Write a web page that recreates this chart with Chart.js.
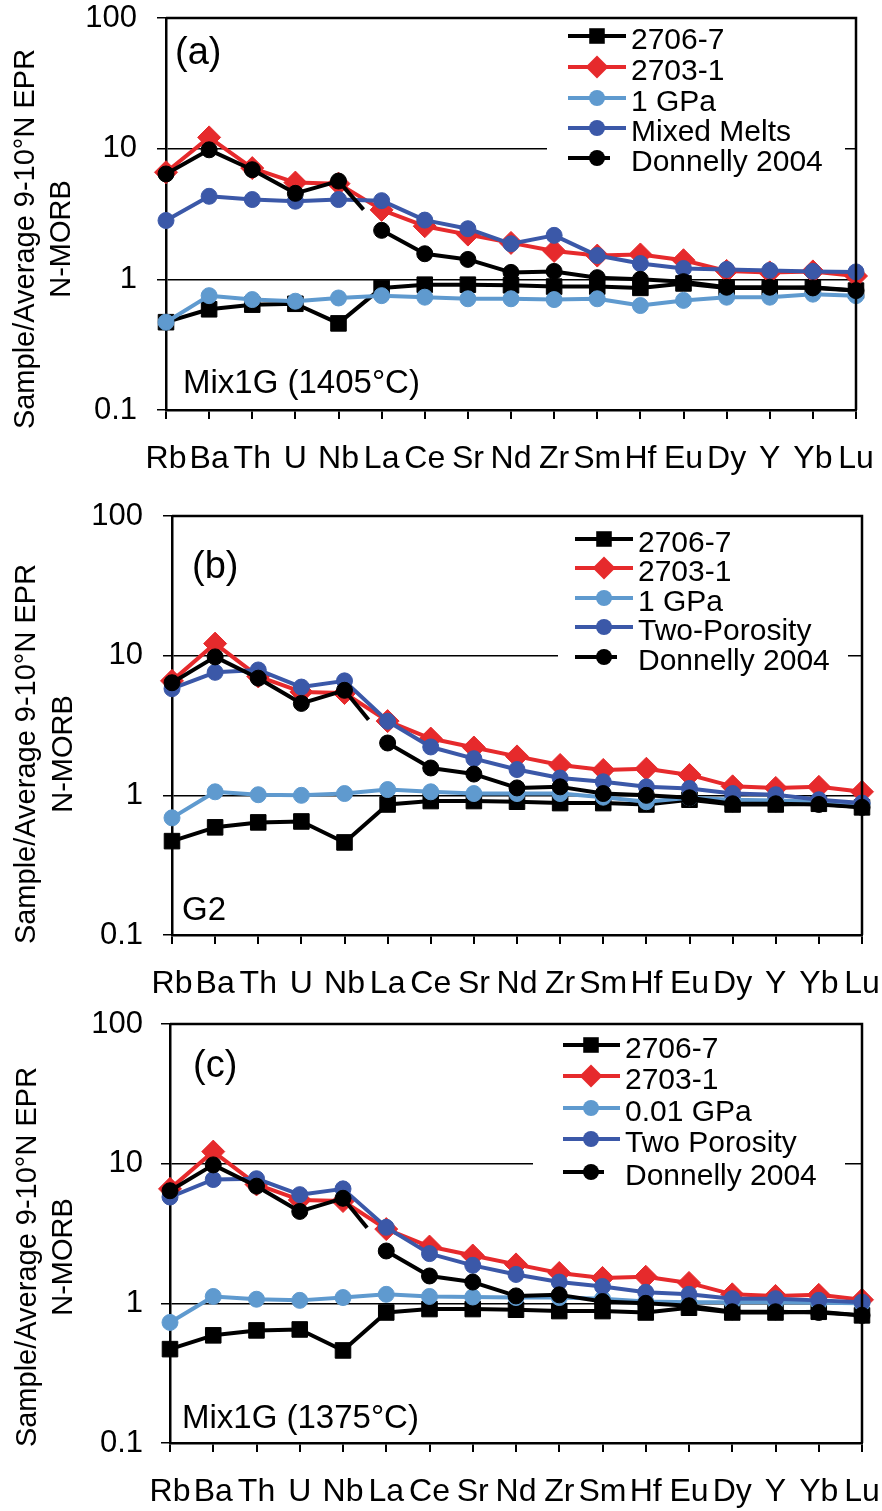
<!DOCTYPE html>
<html>
<head>
<meta charset="utf-8">
<script src="https://cdn.jsdelivr.net/npm/chart.js@4.4.1/dist/chart.umd.min.js"></script>
<style>
  body { margin: 0; background: #fff; width: 882px; height: 1511px; position: relative; overflow: hidden; }
  canvas { position: absolute; left: 0; }
</style>
</head>
<body>
<canvas id="chartA" width="882" height="488" style="top:0px"></canvas>
<canvas id="chartB" width="882" height="510" style="top:490px"></canvas>
<canvas id="chartC" width="882" height="511" style="top:1000px"></canvas>
<script>
// elements along the x axis
const elements = ['Rb', 'Ba', 'Th', 'U', 'Nb', 'La', 'Ce', 'Sr', 'Nd', 'Zr', 'Sm', 'Hf', 'Eu', 'Dy', 'Y', 'Yb', 'Lu'];
const yTicks = [0.1, 1, 10, 100];

// samples (same in every panel)
const sample2706 = [0.47, 0.59, 0.64, 0.65, 0.46, 0.86, 0.91, 0.91, 0.9, 0.88, 0.88, 0.86, 0.93, 0.86, 0.86, 0.87, 0.82];
const sample2703 = [6.6, 12.2, 7.1, 5.5, 5.4, 3.4, 2.55, 2.2, 1.9, 1.65, 1.52, 1.55, 1.4, 1.16, 1.13, 1.15, 1.06];
const donnelly2004 = [6.4, 9.8, 6.9, 4.55, 5.65, 2.37, 1.57, 1.42, 1.13, 1.15, 1.03, 1.0, 0.96, 0.87, 0.87, 0.86, 0.82];

// (a) Mix1G 1405 C
const gpa1A = [0.47, 0.75, 0.7, 0.68, 0.72, 0.75, 0.73, 0.71, 0.71, 0.7, 0.71, 0.63, 0.69, 0.73, 0.73, 0.77, 0.75];
const mixedMelts = [2.82, 4.32, 4.08, 3.96, 4.08, 4.0, 2.84, 2.44, 1.87, 2.17, 1.52, 1.32, 1.21, 1.19, 1.17, 1.15, 1.14];
// (b) G2
const gpa1B = [0.69, 1.06, 1.01, 1.0, 1.03, 1.1, 1.06, 1.03, 1.03, 1.03, 0.97, 0.9, 0.96, 0.93, 0.92, 0.9, 0.87];
const twoPorosityB = [5.8, 7.6, 7.9, 5.96, 6.6, 3.39, 2.22, 1.83, 1.53, 1.33, 1.25, 1.15, 1.12, 1.03, 1.01, 0.93, 0.88];
// (c) Mix1G 1375 C
const gpa001C = [0.73, 1.12, 1.07, 1.05, 1.1, 1.16, 1.12, 1.11, 1.1, 1.1, 1.08, 1.03, 1.02, 1.02, 1.02, 1.01, 1.0];
const twoPorosityC = [5.77, 7.7, 7.8, 6.0, 6.6, 3.5, 2.27, 1.87, 1.61, 1.42, 1.32, 1.2, 1.16, 1.08, 1.08, 1.05, 1.02];

const FONT = '"Liberation Sans", Arial, Helvetica, sans-serif';
const RED = '#E62A2C';
const LIGHT = '#5F9ACF';
const DARK = '#3B58A8';

function makeDatasets(modelLabel, modelData, mixLabel, mixData) {
    return [
        { label: '2706-7', data: sample2706, borderColor: '#000', backgroundColor: '#000',
          pointStyle: 'rect', pointRadius: 11, order: 4 },
        { label: '2703-1', data: sample2703, borderColor: RED, backgroundColor: RED,
          pointStyle: 'rectRot', pointRadius: 11.5, order: 3 },
        { label: modelLabel, data: modelData, borderColor: LIGHT, backgroundColor: LIGHT,
          pointStyle: 'circle', pointRadius: 8, order: 2 },
        { label: mixLabel, data: mixData, borderColor: DARK, backgroundColor: DARK,
          pointStyle: 'circle', pointRadius: 8, order: 1 },
        { label: 'Donnelly 2004', data: donnelly2004, borderColor: '#000', backgroundColor: '#000',
          pointStyle: 'circle', pointRadius: 8, order: 0,
          // the Nb-La segment is only partly drawn in the original
          segment: { borderDash: ctx => ctx.p0DataIndex === 4 ? [38, 400] : undefined } }
    ];
}

function drawMarker(ctx, style, r, x, y, color) {
    ctx.fillStyle = color;
    ctx.beginPath();
    if (style === 'rect') {
        const h = r * Math.SQRT1_2;
        ctx.rect(x - h, y - h, 2 * h, 2 * h);
    } else if (style === 'rectRot') {
        ctx.moveTo(x, y - r); ctx.lineTo(x + r, y); ctx.lineTo(x, y + r); ctx.lineTo(x - r, y);
        ctx.closePath();
    } else {
        ctx.arc(x, y, r, 0, Math.PI * 2);
    }
    ctx.fill();
}

// legend, panel texts, y title and plot frame
function makeDecor(p) {
    return {
        id: 'decor',
        afterDatasetsDraw(chart) {
            const ctx = chart.ctx;
            const area = chart.chartArea;
            ctx.save();
            // white legend background hides the gridline
            ctx.fillStyle = '#fff';
            const boxTop = area.top + 2;
            ctx.fillRect(p.boxX0, boxTop, p.boxX1 - p.boxX0, p.rows[4] + 20 - boxTop);

            chart.data.datasets.forEach((ds, i) => {
                const y = p.rows[i];
                const x1 = ds.label === 'Donnelly 2004' ? p.markerX + 13 : p.lineX1;
                ctx.strokeStyle = ds.borderColor;
                ctx.lineWidth = 4;
                ctx.beginPath();
                ctx.moveTo(p.lineX0, y);
                ctx.lineTo(x1, y);
                ctx.stroke();
                drawMarker(ctx, ds.pointStyle, ds.pointRadius, p.markerX, y, ds.borderColor);
                ctx.fillStyle = '#000';
                ctx.font = '30px ' + FONT;
                ctx.textAlign = 'left';
                ctx.textBaseline = 'middle';
                ctx.fillText(ds.label, p.textX, y + 5);
            });

            // panel letter and run name
            ctx.fillStyle = '#000';
            ctx.textBaseline = 'alphabetic';
            ctx.textAlign = 'left';
            ctx.font = '38px ' + FONT;
            ctx.fillText(p.letter, p.letterX, p.letterY);
            ctx.font = '33px ' + FONT;
            ctx.fillText(p.name, p.nameX, p.nameY);

            // y title, two lines
            ctx.font = '29px ' + FONT;
            ctx.textAlign = 'center';
            ctx.textBaseline = 'middle';
            [['Sample/Average 9-10°N EPR', p.titleX1], ['N-MORB', p.titleX2]].forEach(([t, x]) => {
                ctx.save();
                ctx.translate(x, p.titleY);
                ctx.rotate(-Math.PI / 2);
                ctx.fillText(t, 0, 0);
                ctx.restore();
            });

            // top and right frame
            ctx.strokeStyle = '#000';
            ctx.lineWidth = 2.5;
            ctx.beginPath();
            ctx.moveTo(area.left, area.top);
            ctx.lineTo(area.right, area.top);
            ctx.lineTo(area.right, area.bottom);
            ctx.stroke();
            ctx.restore();
        }
    };
}

function makePanel(id, p, datasets) {
    const ctx = document.getElementById(id).getContext('2d');
    return new Chart(ctx, {
        type: 'line',
        data: { labels: elements, datasets: datasets },
        options: {
            responsive: false,
            animation: false,
            devicePixelRatio: 1,
            layout: { padding: { left: 0, top: p.plotTop, right: 882 - p.plotRight, bottom: 0 } },
            elements: {
                line: { borderWidth: 4, tension: 0, borderJoinStyle: 'round' },
                point: { borderWidth: 1 }
            },
            datasets: { line: { clip: false } },
            plugins: { legend: { display: false }, tooltip: { enabled: false } },
            scales: {
                x: {
                    type: 'category',
                    offset: false,
                    grid: { drawOnChartArea: false, drawTicks: true, tickLength: 9, color: '#000', lineWidth: 2 },
                    border: { color: '#000', width: 2.5 },
                    ticks: {
                        autoSkip: false, maxRotation: 0, minRotation: 0, padding: 21, color: '#000',
                        font: { family: FONT, size: 32 }
                    },
                    afterFit: s => {
                        s.height = p.canvasH - p.plotBottom;
                        s.paddingLeft = 0; s.paddingRight = 0;
                    }
                },
                y: {
                    type: 'logarithmic',
                    min: 0.1,
                    max: 100,
                    afterBuildTicks: s => { s.ticks = yTicks.map(v => ({ value: v })); },
                    grid: { color: '#000', lineWidth: 1.5, tickLength: 9, drawTicks: true },
                    border: { color: '#000', width: 2.5 },
                    ticks: {
                        padding: p.yPad, color: '#000',
                        font: { family: FONT, size: 31, lineHeight: 1 },
                        callback: v => String(v)
                    },
                    afterFit: s => {
                        s.width = p.plotLeft;
                        s.paddingTop = 0; s.paddingBottom = 0;
                    }
                }
            }
        },
        plugins: [makeDecor(p)]
    });
}

makePanel('chartA', {
    canvasH: 488, plotLeft: 166, plotRight: 856, plotTop: 18, plotBottom: 410, yPad: 20,
    boxX0: 547, boxX1: 845, rows: [36, 67, 98, 128, 158],
    lineX0: 568, lineX1: 626, markerX: 597, textX: 631,
    letter: '(a)', letterX: 175, letterY: 64,
    name: 'Mix1G (1405°C)', nameX: 183, nameY: 393,
    titleX1: 26, titleX2: 62, titleY: 239
}, makeDatasets('1 GPa', gpa1A, 'Mixed Melts', mixedMelts));

makePanel('chartB', {
    canvasH: 510, plotLeft: 172, plotRight: 862, plotTop: 26, plotBottom: 445, yPad: 20,
    boxX0: 558, boxX1: 848, rows: [49, 78, 108, 137, 167],
    lineX0: 575, lineX1: 633, markerX: 604, textX: 638,
    letter: '(b)', letterX: 192, letterY: 88,
    name: 'G2', nameX: 182, nameY: 430,
    titleX1: 27, titleX2: 64, titleY: 264
}, makeDatasets('1 GPa', gpa1B, 'Two-Porosity', twoPorosityB));

makePanel('chartC', {
    canvasH: 511, plotLeft: 170, plotRight: 862, plotTop: 24, plotBottom: 443, yPad: 18,
    boxX0: 533, boxX1: 845, rows: [45, 76, 108, 139, 172],
    lineX0: 563, lineX1: 620, markerX: 591, textX: 625,
    letter: '(c)', letterX: 193, letterY: 77,
    name: 'Mix1G (1375°C)', nameX: 182, nameY: 428,
    titleX1: 28, titleX2: 64, titleY: 257
}, makeDatasets('0.01 GPa', gpa001C, 'Two Porosity', twoPorosityC));
</script>
</body>
</html>
